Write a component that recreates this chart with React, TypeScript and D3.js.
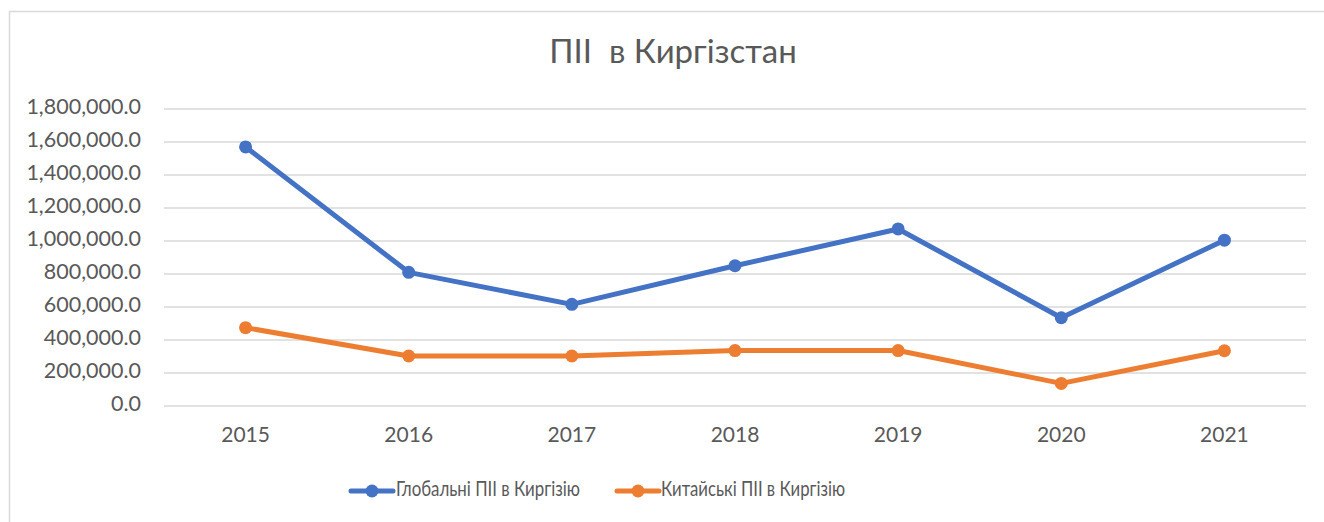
import React from "react";
import * as d3 from "d3";

const years = ["2015", "2016", "2017", "2018", "2019", "2020", "2021"];
const globalFDI = [1570000, 810000, 616000, 850000, 1073000, 535000, 1005000];
const chinaFDI = [475000, 303000, 303000, 336000, 336000, 137000, 335000];
const yTicks = [0, 200000, 400000, 600000, 800000, 1000000, 1200000, 1400000, 1600000, 1800000];
const seriesNames = ["Глобальні ПІІ в Киргізію", "Китайські ПІІ в Киргізію"];
const colors = ["#4472C4", "#ED7D31"];

const W = 1324;
const H = 522;
const FONT = "Lato, 'Open Sans', sans-serif";
const TEXT = "#595959";

export default function App() {
  const x = d3.scaleBand<string>().domain(years).range([164, 1306]);
  const y = d3.scaleLinear().domain([0, 1800000]).range([406, 109]);
  const cx = (d: string) => (x(d) as number) + x.bandwidth() / 2;
  const fmt = (v: number) => d3.format(",.1f")(v);
  const line = d3
    .line<number>()
    .x((_, i) => cx(years[i]))
    .y((v) => y(v));
  const series = [globalFDI, chinaFDI];

  const legendItems = [
    { lx: 351, tx: 396 },
    { lx: 617, tx: 661 },
  ];

  return (
    <svg
      width={W}
      height={H}
      style={{ position: "absolute", left: 0, top: 0, background: "#fff" }}
      fontFamily={FONT}
    >
      <rect x={0} y={0} width={W} height={H} fill="#fff" />
      <rect x={9.5} y={11.5} width={1340} height={540} fill="none" stroke="#d9d9d9" strokeWidth={1.5} />
      <text x={673} y={55} textAnchor="middle" dominantBaseline="middle" fontSize={33} fill={TEXT}>
        ПІІ{"\u00A0\u00A0"}в Киргізстан
      </text>
      {yTicks.map((t) => (
        <g key={t}>
          <line x1={164} x2={1306} y1={y(t)} y2={y(t)} stroke="#d9d9d9" strokeWidth={1.5} />
          <text x={141} y={y(t)} textAnchor="end" dominantBaseline="middle" fontSize={21.5} fill={TEXT}>
            {fmt(t)}
          </text>
        </g>
      ))}
      {years.map((yr) => (
        <text key={yr} x={cx(yr)} y={437} textAnchor="middle" dominantBaseline="middle" fontSize={21} fill={TEXT}>
          {yr}
        </text>
      ))}
      {series.map((s, si) => (
        <g key={si}>
          <path d={line(s) || ""} fill="none" stroke={colors[si]} strokeWidth={5} strokeLinejoin="round" strokeLinecap="round" />
          {s.map((v, i) => (
            <circle key={i} cx={cx(years[i])} cy={y(v)} r={6.5} fill={colors[si]} />
          ))}
        </g>
      ))}
      {legendItems.map((it, i) => (
        <g key={i}>
          <line x1={it.lx} x2={it.lx + 42} y1={491} y2={491} stroke={colors[i]} strokeWidth={5} strokeLinecap="round" />
          <circle cx={it.lx + 21} cy={491} r={6.5} fill={colors[i]} />
          <text x={it.tx} y={491} dominantBaseline="middle" fontSize={21.5} fill={TEXT} textLength={184} lengthAdjust="spacingAndGlyphs">
            {seriesNames[i]}
          </text>
        </g>
      ))}
    </svg>
  );
}
